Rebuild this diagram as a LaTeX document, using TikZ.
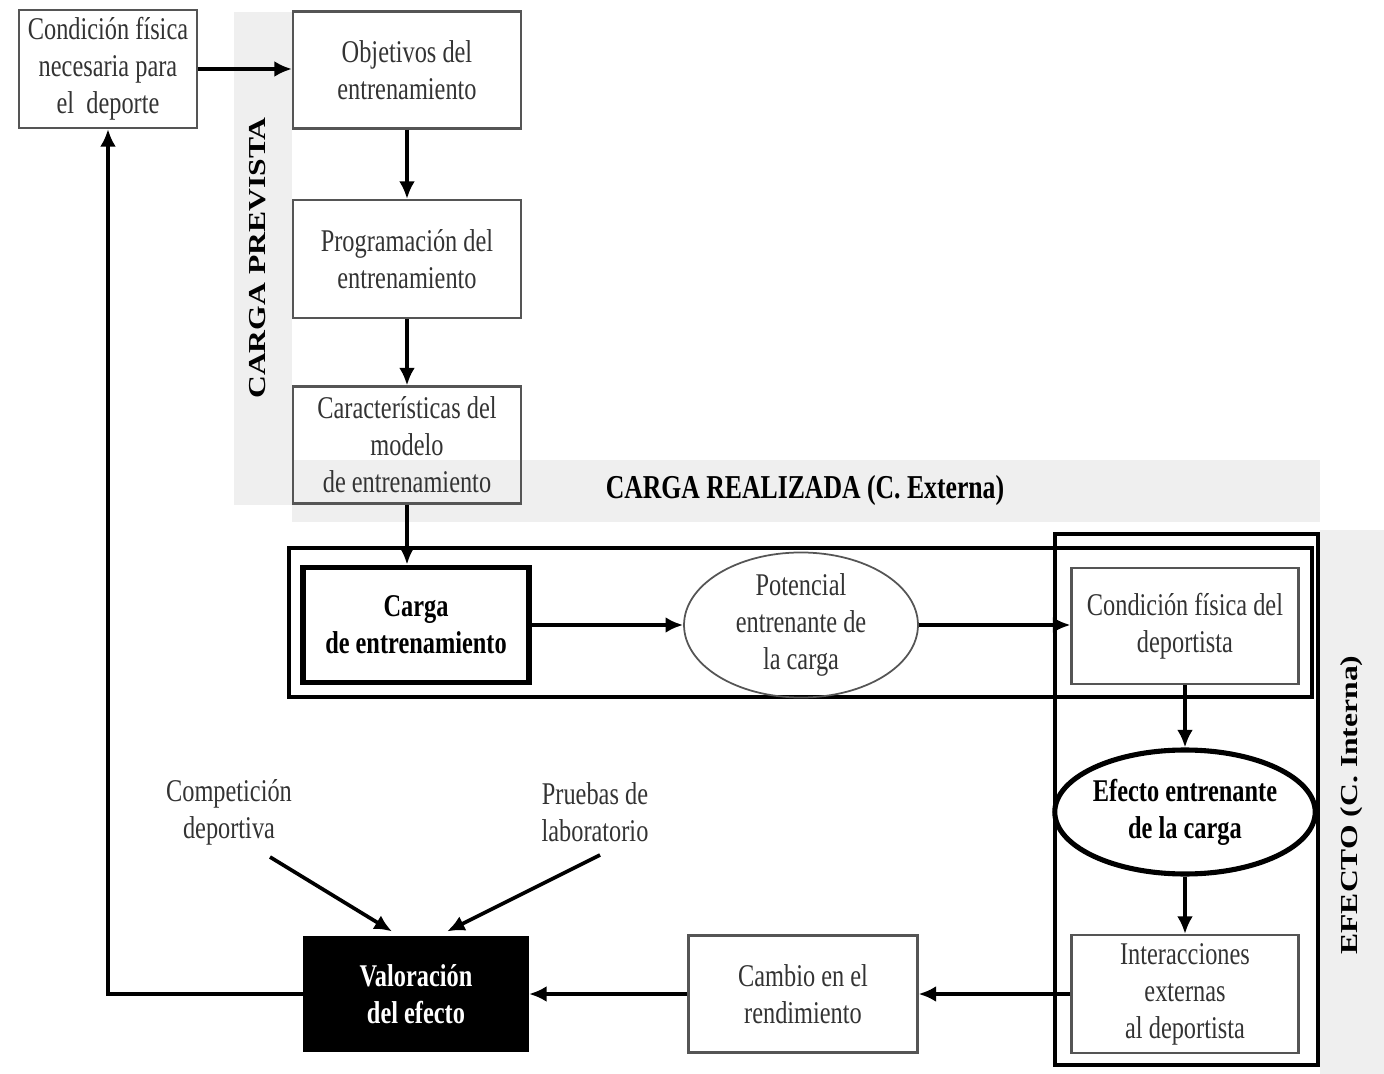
\documentclass[tikz,border=0pt]{standalone}
\usepackage{fontspec}
\usepackage{graphicx}
\setmainfont{Liberation Serif}
\newfontfamily\condf[FakeStretch=0.77]{Liberation Serif}
\usetikzlibrary{arrows.meta,shapes.geometric}
\definecolor{bandgray}{HTML}{EFEFEF}
\definecolor{boxline}{HTML}{555555}
\definecolor{txtgray}{HTML}{333333}
\tikzset{
  base/.style={font=\condf\fontsize{18}{21}\selectfont, align=center, inner sep=0pt, text=txtgray},
  pbox/.style={base, draw=boxline, line width=1.2pt, rectangle},
  arr/.style={line width=2.1pt, -{Latex[length=10pt,width=9pt]}},
  band/.style={fill=bandgray},
  frame/.style={draw=black, line width=1.9pt},
  blabel/.style={font=\bfseries\fontsize{18}{21}\selectfont, text=black, inner sep=0pt}
}
\begin{document}
\begin{tikzpicture}[x=0.02cm,y=-0.02cm]
\useasboundingbox (0,0) rectangle (1384,1074);
% grey bands
\fill[band] (234,12) rectangle (292,505);
\fill[band] (292,460) rectangle (1320,522);
\fill[band] (1320,530) rectangle (1384,1074);
\node[blabel, rotate=90] (lprev) at (258,258) {\scalebox{1}[0.77]{CARGA PREVISTA}};
\node[blabel, font=\condf\bfseries\fontsize{19}{21}\selectfont] (lreal) at (805,490) {CARGA REALIZADA (C. Externa)};
\node[blabel, rotate=90] (lefec) at (1352,805) {\scalebox{1}[0.77]{EFECTO (C. Interna)}};
% frames
\draw[frame] (289,548) rectangle (1312,697);
\draw[frame] (1055,534) rectangle (1318,1065);
% nodes
\node[pbox, minimum width=3.56cm, minimum height=2.36cm] (cond1) at (108,69) {Condición física\\necesaria para\\el~ deporte};
\node[pbox, minimum width=4.56cm, minimum height=2.34cm] (obj) at (407,70) {Objetivos del\\entrenamiento};
\node[pbox, minimum width=4.56cm, minimum height=2.36cm] (prog) at (407,259) {Programación del\\entrenamiento};
\node[pbox, minimum width=4.56cm, minimum height=2.34cm] (car) at (407,445) {Características del\\modelo\\de entrenamiento};
\node[pbox, draw=black, line width=3.4pt, text=black, font=\condf\bfseries\fontsize{18}{21}\selectfont, minimum width=4.52cm, minimum height=2.3cm] (carga) at (416,625) {Carga\\de entrenamiento};
\node[pbox, ellipse, draw=boxline, line width=1pt, minimum width=4.68cm, minimum height=2.4cm] (pot) at (801,625) {Potencial\\entrenante de\\la carga};
\node[pbox, minimum width=4.54cm, minimum height=2.32cm] (condD) at (1185,626) {Condición física del\\deportista};
\node[pbox, ellipse, draw=black, line width=2.9pt, text=black, font=\condf\bfseries\fontsize{18}{21}\selectfont, minimum width=4.76cm, minimum height=2.48cm] (efecto) at (1185,812) {Efecto entrenante\\de la carga};
\node[pbox, minimum width=4.54cm, minimum height=2.36cm] (inter) at (1185,994) {Interacciones\\externas\\al deportista};
\node[pbox, minimum width=4.58cm, minimum height=2.34cm] (cambio) at (803,994) {Cambio en el\\rendimiento};
\node[pbox, draw=black, fill=black, text=white, font=\condf\bfseries\fontsize{18}{21}\selectfont, minimum width=4.48cm, minimum height=2.26cm] (valor) at (416,994) {Valoración\\del efecto};
\node[base] (comp) at (229,812) {Competición\\deportiva};
\node[base] (prue) at (595,812) {Pruebas de\\laboratorio};
\coordinate (c1) at (270,857);
\coordinate (c2) at (600,855);
% connectors
\draw[arr] (cond1.east) -- (cond1.east -| obj.west);
\draw[arr] (obj.south) -- (prog.north);
\draw[arr] (prog.south) -- (car.north);
\draw[arr] (car.south) -- (car.south |- carga.north);
\draw[arr] (carga.east) -- (pot.west);
\draw[arr] (pot.east) -- (pot.east -| condD.west);
\draw[arr] (condD.south) -- (efecto.north);
\draw[arr] (efecto.south) -- (inter.north);
\draw[arr] (inter.west) -- (cambio.east);
\draw[arr] (cambio.west) -- (valor.east);
\draw[arr] (valor.west) -| (cond1.south);
\draw[arr] (c1) -- ([xshift=-0.48cm,yshift=0.1cm]valor.north);
\draw[arr] (c2) -- ([xshift=0.62cm,yshift=0.1cm]valor.north);
\end{tikzpicture}
\end{document}
